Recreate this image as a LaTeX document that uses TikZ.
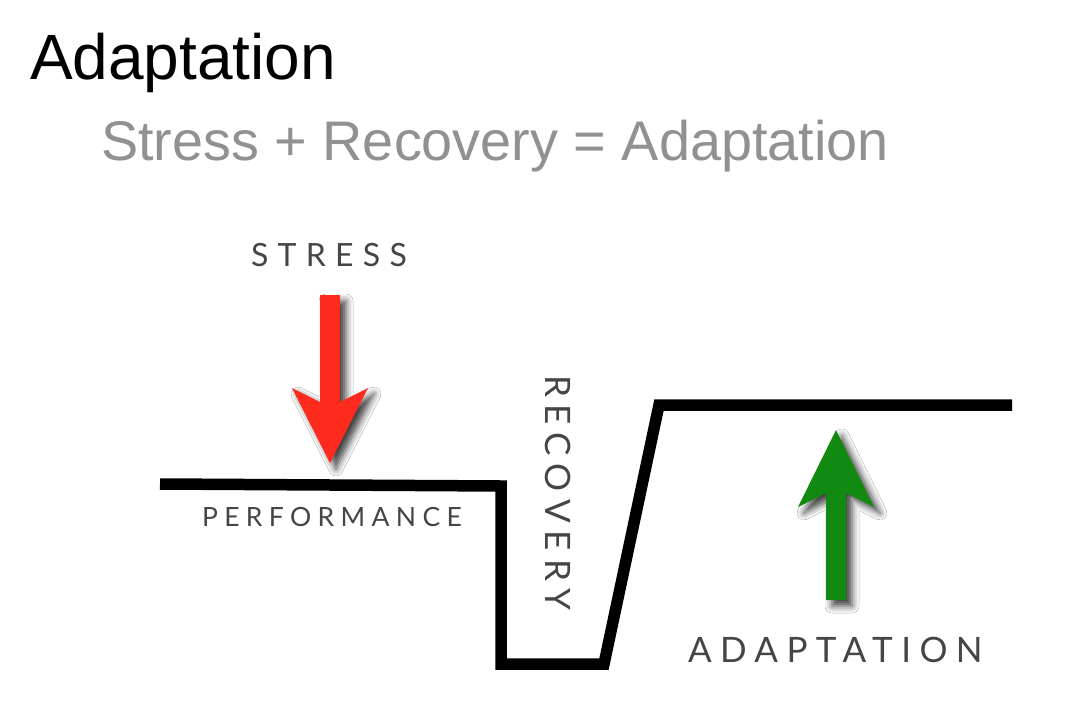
\documentclass[tikz,border=0pt]{standalone}
\usepackage{fontspec}
\setmainfont{Liberation Sans}
\newfontfamily\gillA[LetterSpace=29]{Lato}
\newfontfamily\gillB[LetterSpace=24]{Lato}
\newfontfamily\gillC[LetterSpace=24]{Lato}
\newfontfamily\gillD[LetterSpace=23]{Lato}
\usetikzlibrary{shadows.blur}
\definecolor{titlegray}{RGB}{145,145,145}
\definecolor{labelgray}{RGB}{69,69,69}
\definecolor{stressred}{RGB}{255,42,30}
\definecolor{adaptgreen}{RGB}{18,138,18}
\begin{document}
\begin{tikzpicture}[x=1pt,y=-1pt,
  txt/.style={inner sep=0pt, outer sep=0pt, anchor=base west},
  lbl/.style={txt, text=labelgray},
  curve/.style={line width=11.5pt, line join=miter, miter limit=10},
  arrowshape/.style={blur shadow={shadow xshift=6pt, shadow yshift=-6pt, shadow blur radius=7pt, shadow opacity=75}}
  ]
\useasboundingbox (0,0) rectangle (1066,720);
\fill[white] (0,0) rectangle (1066,720);

\node[txt] (title) at (30,79) {\fontsize{64}{70}\selectfont Adaptation};
\node[txt, text=titlegray] (subtitle) at (101,160) {\fontsize{55.8}{62}\selectfont Stress + Recovery = Adaptation};

\node[lbl] (stress) at (251,266) {\fontsize{32}{36}\selectfont\gillA STRESS};
\node[lbl] (perf) at (202,526) {\fontsize{26.5}{30}\selectfont\gillB PERFORMANCE};
\node[lbl] (adapt) at (688,662) {\fontsize{35}{40}\selectfont\gillC ADAPTATION};
\node[lbl, rotate=-90] (recov) at (545,375) {\fontsize{35}{40}\selectfont\gillD RECOVERY};

\coordinate (p0) at (160,484);
\coordinate (p1) at (501,486);
\coordinate (p2) at (501,664);
\coordinate (p3) at (604,664);
\coordinate (p4) at (659,405);
\coordinate (p5) at (1012,405);
\draw[curve] (p0) -- (p1) -- (p2) -- (p3) -- (p4) -- (p5);

\fill[stressred, arrowshape] (320,295) -- (340,295) -- (340,402) -- (368,388) -- (330,463) -- (292,388) -- (320,402) -- cycle;
\fill[adaptgreen, arrowshape] (826,600) -- (846,600) -- (846,493) -- (874,507) -- (836,430) -- (798,507) -- (826,493) -- cycle;
\end{tikzpicture}
\end{document}
